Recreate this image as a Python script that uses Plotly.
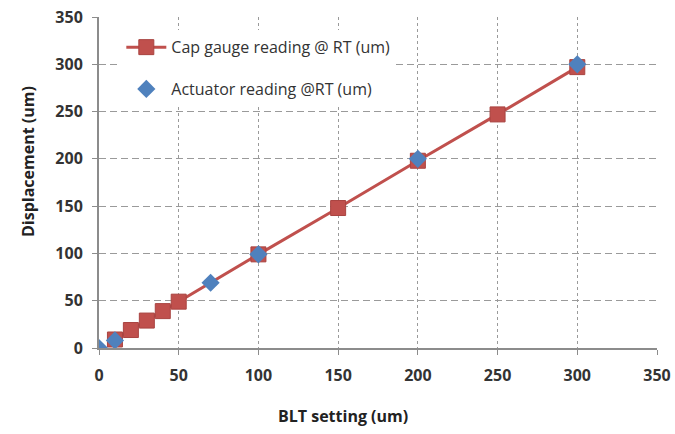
import plotly.graph_objects as go

# BLT setting vs measured displacement, both in microns
cap_x = [10, 20, 30, 40, 50, 100, 150, 200, 250, 300]
cap_y = [9, 19, 29, 39, 49, 99, 148, 198, 247, 297]

act_x = [0, 10, 70, 100, 200, 300]
act_y = [0, 8, 69, 99, 200, 300]

tick_vals = [0, 50, 100, 150, 200, 250, 300, 350]

red = "#C0504D"
blue = "#4F81BD"
grid = "#9a9a9a"
font_main = "Open Sans, Liberation Sans, sans-serif"

fig = go.Figure()
fig.add_trace(go.Scatter(
    x=cap_x, y=cap_y, mode="lines+markers",
    name="Cap gauge reading @ RT (um)", legendgroup="cap",
    line=dict(color=red, width=3),
    marker=dict(symbol="square", size=15, color=red, line=dict(color="#a94441", width=1)),
))
fig.add_trace(go.Scatter(
    x=act_x, y=act_y, mode="markers",
    name="Actuator reading @RT (um)", legendgroup="act",
    marker=dict(symbol="diamond", size=14, color=blue),
))

axis_common = dict(
    range=[0, 350], tickvals=tick_vals, showgrid=True,
    gridcolor=grid, gridwidth=1, automargin=False,
    showline=True, linecolor="#8c8c8c", linewidth=2,
    ticks="outside", ticklen=5, tickcolor="#8c8c8c",
    tickfont=dict(family=font_main, size=16, color="#333333", weight="bold"),
    zeroline=False,
)

fig.update_xaxes(**axis_common, griddash="3px,3px", ticklabelstandoff=7)
fig.update_yaxes(**axis_common, griddash="7px,4px", ticklabelstandoff=6)

# axis titles, placed relative to the whole figure
title_font = dict(family=font_main, size=16, color="#222222", weight="bold")
fig.add_annotation(text="BLT setting (um)", xref="paper", yref="paper",
                   x=(343 - 99) / (657 - 99), y=-(416 - 348) / (348 - 17),
                   xanchor="center", yanchor="middle", showarrow=False, font=title_font)
fig.add_annotation(text="Displacement (um)", xref="paper", yref="paper",
                   x=-(99 - 28) / (657 - 99), y=(348 - 162) / (348 - 17),
                   xanchor="center", yanchor="middle", textangle=-90,
                   showarrow=False, font=title_font)

fig.update_layout(
    width=675, height=434,
    margin=dict(l=99, r=18, t=17, b=86),
    plot_bgcolor="white", paper_bgcolor="white",
    showlegend=True,
    legend=dict(
        x=0.04, y=0.96, xanchor="left", yanchor="top",
        bgcolor="white", itemwidth=40, tracegroupgap=18,
        font=dict(family=font_main, size=16, color="#333333"),
    ),
)

fig.write_html("out.html")
